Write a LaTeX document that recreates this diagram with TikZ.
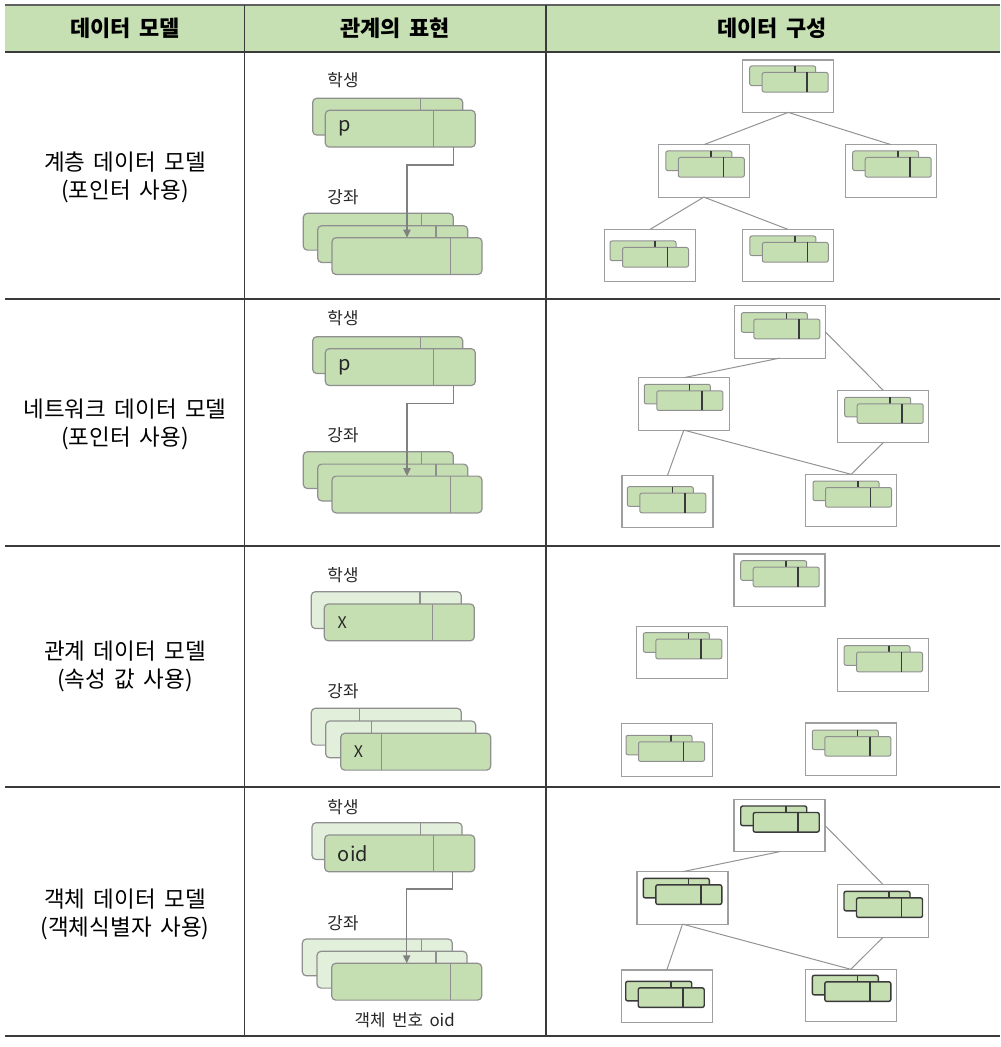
\documentclass[tikz,border=0pt]{standalone}
\usepackage{fontspec}
\setmainfont{Noto Sans CJK KR}[WordSpace=1.7]
\usetikzlibrary{calc,arrows.meta}
\definecolor{hdgreen}{HTML}{C6E0B4}
\definecolor{recgreen}{HTML}{C5DFB3}
\definecolor{reclight}{HTML}{E2EFDA}
\definecolor{recline}{HTML}{8F8F8F}
\definecolor{rule}{HTML}{3A3A3A}

% one record with its divider: name, style, top left, divider offset
\newcommand{\trec}[4]{%
  \node[#2] (#1) at (#3) {};
  \draw[rsep] ($(#1.north west)+(#4,0)$) -- ($(#1.south west)+(#4,0)$);}
% two stacked records in a frame: name, top left, record style, inner offset
\newcommand{\drec}[4]{%
  \node[recframe] (#1) at (#2) {};
  \node[#3] (#1a) at ($(#1.north west)+(#4)$) {};
  \draw[rbar] ($(#1a.north west)+(45,0)$) -- ($(#1a.south west)+(45,0)$);
  \node[#3] (#1b) at ($(#1a.north west)+(12.5,6.5)$) {};
  \draw[rbar] ($(#1b.north west)+(45,0)$) -- ($(#1b.south west)+(45,0)$);}

\begin{document}
\begin{tikzpicture}[x=0.25mm,y=-0.25mm,
  rec/.style={draw=recline,fill=recgreen,line width=0.3mm,rounded corners=1mm,
    minimum width=37.5mm,minimum height=9.2mm,inner sep=0pt,outer sep=0pt,anchor=north west},
  recl/.style={rec,fill=reclight},
  rsep/.style={draw=recline,line width=0.3mm},
  minirec/.style={draw=recline,fill=recgreen,line width=0.25mm,rounded corners=0.5mm,
    minimum width=16.5mm,minimum height=4.9mm,inner sep=0pt,outer sep=0pt,anchor=north west},
  minirecd/.style={minirec,draw=rule,line width=0.35mm},
  rbar/.style={draw=rule,line width=0.4mm},
  recframe/.style={draw=gray!75,line width=0.3mm,minimum width=22.75mm,minimum height=13.1mm,
    inner sep=0pt,outer sep=0pt,anchor=north west},
  tie/.style={draw=gray!85,line width=0.25mm},
  arr/.style={draw=gray,line width=0.35mm,-{Triangle[length=2mm,width=1.8mm]}},
  hd/.style={font=\bfseries\fontsize{15.6}{18}\selectfont},
  model/.style={align=center,font=\fontsize{16}{20}\selectfont},
  lbl/.style={font=\fontsize{12}{14}\selectfont,text=black!85},
  valtxt/.style={anchor=west,font=\fontsize{14.2}{16}\selectfont,inner sep=0pt,text=black!85},
  xtxt/.style={valtxt,font=\fontsize{11.4}{14}\selectfont}]
\useasboundingbox (0,0) rectangle (1000,1047);

% table
\fill[hdgreen] (5,5) rectangle (1000,52);
\draw[rule!80,line width=0.6mm] (5,5) -- (1000,5);
\draw[rule,line width=0.5mm] (5,52) -- (1000,52) (5,1036) -- (1000,1036);
\draw[rule,line width=0.4mm] (5,299) -- (1000,299) (5,546) -- (1000,546) (5,787) -- (1000,787);
\draw[rule,line width=0.35mm] (244.5,5) -- (244.5,1036) (546,5) -- (546,1036);

\node[hd] (h1) at (125,28) {데이터 모델};
\node[hd] (h2) at (395,28) {관계의 표현};
\node[hd] (h3) at (772,28) {데이터 구성};

\node[model] (m1) at (125,177) {계층 데이터 모델\\(포인터 사용)};
\node[model] (m2) at (125,424) {네트워크 데이터 모델\\(포인터 사용)};
\node[model] (m3) at (125,666) {관계 데이터 모델\\(속성 값 사용)};
\node[model] (m4) at (125,914) {객체 데이터 모델\\(객체식별자 사용)};

% relations, row 1
\node[lbl] (st1) at (343,80) {학생};
\trec{s1a}{rec}{312.7,98.3}{108}
\trec{s1b}{rec}{325.3,110.3}{108}
\node[valtxt] (p1) at ($(s1b.west)+(13,0)$) {p};
\node[lbl] (co1) at (343,197) {강좌};
\trec{k1a}{rec}{303.3,213.3}{118.4}
\trec{k1b}{rec}{317.7,225.7}{118.3}
\trec{k1c}{rec}{332,237.7}{118.7}
\draw[arr] ($(s1b.south east)+(-22,0)$) -- ++(0,18) -| (k1c.north);

% relations, row 2
\node[lbl] (st2) at (343,318.4) {학생};
\trec{s2a}{rec}{312.7,336.7}{108}
\trec{s2b}{rec}{325.3,348.7}{108}
\node[valtxt] (p2) at ($(s2b.west)+(13,0)$) {p};
\node[lbl] (co2) at (343,435.4) {강좌};
\trec{k2a}{rec}{303.3,451.7}{118.4}
\trec{k2b}{rec}{317.7,464.1}{118.3}
\trec{k2c}{rec}{332,476.1}{118.7}
\draw[arr] ($(s2b.south east)+(-22,0)$) -- ++(0,18) -| (k2c.north);

% relations, row 3
\node[lbl] (st3) at (343,575) {학생};
\trec{s3a}{recl}{311.3,591.7}{108.7}
\trec{s3b}{rec}{324.3,604}{108.4}
\node[xtxt] (x1) at ($(s3b.west)+(13,0)$) {X};
\node[lbl] (co3) at (343,691) {강좌};
\trec{k3a}{recl}{311.3,708.3}{48}
\trec{k3b}{recl}{325.7,721}{45.6}
\trec{k3c}{rec}{340.7,733.3}{41}
\node[xtxt] (x2) at ($(k3c.west)+(13,0)$) {X};

% relations, row 4
\node[lbl] (st4) at (343,806.7) {학생};
\trec{s4a}{recl}{312,822.7}{108.7}
\trec{s4b}{rec}{324.7,835}{108.6}
\node[valtxt] (o1) at ($(s4b.west)+(13,0)$) {oid};
\node[lbl] (co4) at (343,923) {강좌};
\trec{k4a}{recl}{302.3,939}{119.4}
\trec{k4b}{recl}{317,951.3}{119}
\trec{k4c}{rec}{331.7,963.3}{119}
\draw[arr] ($(s4b.south east)+(-22,0)$) -- ++(0,17) -| (k4c.north);
\node[lbl,anchor=north] (oid) at ($(k4c.south)+(-2,7)$) {객체 번호 oid};

% data, row 1
\drec{t1}{742.7,60}{minirec}{7,6}
\drec{l1}{658.3,144.7}{minirec}{7.5,6.3}
\drec{r1}{845.7,144.7}{minirec}{7,6.3}
\drec{bl1}{604.7,229.3}{minirec}{5.3,11.7}
\drec{bm1}{742.3,229.3}{minirec}{7.5,6.7}
\draw[tie] (t1.south) -- (l1.north) (t1.south) -- (r1.north)
  (l1.south) -- (bl1.north) (l1.south) -- (bm1.north);

% data, row 2
\drec{t2}{734.3,305.7}{minirec}{7,7}
\drec{l2}{638.3,377.7}{minirec}{6,6.6}
\drec{r2}{837.7,390.3}{minirec}{7,7}
\drec{bl2}{622,475.3}{minirec}{5.3,11.4}
\drec{br2}{805.7,474.3}{minirec}{7.3,6.7}
\draw[tie] (t2.south) -- (l2.north) (t2.east) -- (r2.north)
  (l2.south) -- (bl2.north) (l2.south) -- (br2.north) (r2.south) -- (br2.north);

% data, row 3
\drec{t3}{734,554}{minirec}{6.7,6.7}
\drec{l3}{636.7,626.3}{minirec}{6.6,6.4}
\drec{r3}{837.3,638.7}{minirec}{6.7,7}
\drec{bl3}{621.3,723.7}{minirec}{4.7,11.6}
\drec{br3}{805.3,723}{minirec}{7,7}

% data, row 4
\drec{t4}{734,799.3}{minirecd}{6.7,6.7}
\drec{l4}{637,871.7}{minirecd}{6.3,6.6}
\drec{r4}{837.7,884.7}{minirecd}{6.3,6.6}
\drec{bl4}{621.3,970}{minirecd}{4.4,11.3}
\drec{br4}{805.3,969.3}{minirecd}{7,6}
\draw[tie] (t4.south) -- (l4.north) (t4.east) -- (r4.north)
  (l4.south) -- (bl4.north) (l4.south) -- (br4.north) (r4.south) -- (br4.north);
\end{tikzpicture}
\end{document}
